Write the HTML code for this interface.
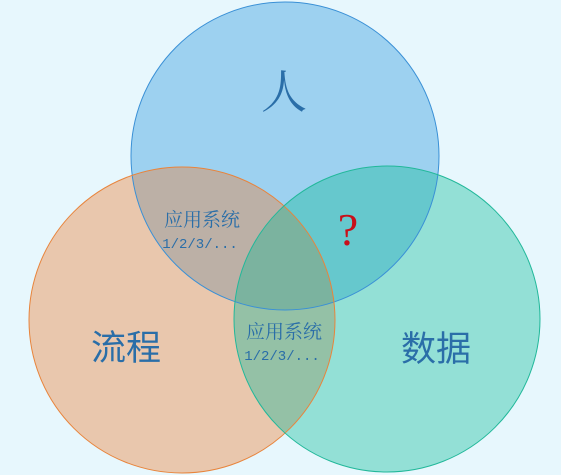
<!DOCTYPE html>
<html><head><meta charset="utf-8"><style>
html,body{margin:0;padding:0;background:#e7f7fd;}
svg{display:block}
</style></head><body>
<svg width="561" height="475" viewBox="0 0 561 475" xmlns="http://www.w3.org/2000/svg">
<defs>
<clipPath id="cT"><circle cx="285" cy="156" r="154"/></clipPath>
<clipPath id="cL"><circle cx="182" cy="320" r="153"/></clipPath>
<clipPath id="cR"><circle cx="387" cy="319" r="153"/></clipPath>
</defs>
<rect width="561" height="475" fill="#e7f7fd"/>
<circle cx="285" cy="156" r="154" fill="#9dd1f0"/>
<circle cx="182" cy="320" r="153" fill="#e9c7ad"/>
<circle cx="387" cy="319" r="153" fill="#93e0d6"/>
<g clip-path="url(#cT)">
  <circle cx="182" cy="320" r="153" fill="#bcb0a6"/>
  <circle cx="387" cy="319" r="153" fill="#66c8cd"/>
</g>
<g clip-path="url(#cL)">
  <circle cx="387" cy="319" r="153" fill="#94c1a6"/>
</g>
<g clip-path="url(#cL)"><g clip-path="url(#cR)">
  <circle cx="285" cy="156" r="154" fill="#7bb39f"/>
</g></g>
<circle cx="285" cy="156" r="154" fill="none" stroke="#3a90d6" stroke-width="1"/>
<circle cx="182" cy="320" r="153" fill="none" stroke="#e8843c" stroke-width="1"/>
<circle cx="387" cy="319" r="153" fill="none" stroke="#22b89a" stroke-width="1"/>
<g fill="#2a6ea8" font-family="'Liberation Sans','Noto Sans CJK SC',sans-serif">
  <text x="284" y="108" font-size="46" text-anchor="middle" font-family="'Noto Serif CJK SC',serif">人</text>
  <text x="126" y="360" font-size="35" text-anchor="middle">流程</text>
  <text x="436" y="361" font-size="35" text-anchor="middle">数据</text>
  <text x="202" y="226" font-size="19" text-anchor="middle" font-family="'Noto Serif CJK SC',serif">应用系统</text>
  <text x="200" y="248" font-size="14" text-anchor="middle" font-family="'Liberation Mono',monospace">1/2/3/...</text>
  <text x="284" y="338" font-size="19" text-anchor="middle" font-family="'Noto Serif CJK SC',serif">应用系统</text>
  <text x="282" y="360" font-size="14" text-anchor="middle" font-family="'Liberation Mono',monospace">1/2/3/...</text>
</g>
<text x="348" y="245" font-size="46" text-anchor="middle" fill="#c8101a" font-family="'Liberation Serif',serif">?</text>
</svg>
</body></html>
